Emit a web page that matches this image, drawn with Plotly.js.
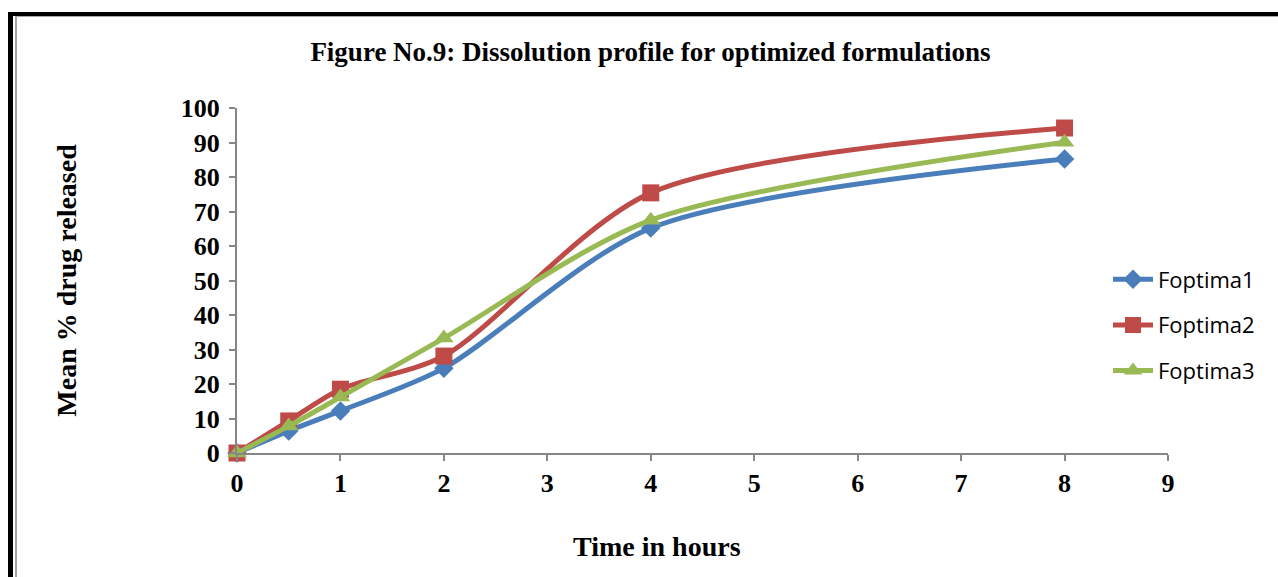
<!DOCTYPE html>
<html>
<head>
<meta charset="utf-8">
<script src="https://cdn.plot.ly/plotly-3.0.1.min.js"></script>
<style>
html,body{margin:0;padding:0;background:#fff;overflow:hidden;}
#frame{position:absolute;left:8px;top:12px;width:1400px;height:700px;border-left:5px solid #000;border-top:4px solid #000;}
#inner{position:absolute;left:2px;top:0px;width:1400px;height:700px;border-left:2px solid #a6a6a6;border-top:1px solid #a6a6a6;}
#chart{position:absolute;left:0;top:0;width:1278px;height:577px;}
</style>
</head>
<body>
<div id="frame"><div id="inner"></div></div>
<div id="chart"></div>
<script>
const timeHours = [0, 0.5, 1, 2, 4, 8];
const foptima1 = [0, 6.4, 12.2, 24.6, 65.2, 85.2];
const foptima2 = [0, 9.3, 18.5, 28.1, 75.4, 94.2];
const foptima3 = [0, 7.8, 16.2, 33.3, 67.5, 90.1];
const seriesNames = ['Foptima1', 'Foptima2', 'Foptima3'];
const xTicks = [0,1,2,3,4,5,6,7,8,9];
const yTicks = [0,10,20,30,40,50,60,70,80,90,100];

const colors = ['#4A7EBB', '#BE4B48', '#98B954'];
const symbols = ['diamond', 'square', 'triangle-up'];
const sizes = [15, 17, 17];
const data = [foptima1, foptima2, foptima3].map((ys, i) => ({
  x: timeHours, y: ys, name: seriesNames[i], type: 'scatter', mode: 'lines+markers',
  legendgroup: 'g' + i,
  line: {color: colors[i], width: 5, shape: 'spline', smoothing: 0.8},
  marker: {color: colors[i], symbol: symbols[i], size: sizes[i]},
  cliponaxis: false
}));

const serif = 'Liberation Serif, Times New Roman, serif';
const tickFont = {family: serif, size: 26, color: '#000', weight: 'bold'};
const layout = {
  width: 1278, height: 577,
  paper_bgcolor: 'rgba(0,0,0,0)', plot_bgcolor: 'rgba(0,0,0,0)',
  margin: {l: 237, r: 110, t: 108, b: 124, autoexpand: false},
  title: {text: '<b>Figure No.9: Dissolution profile for optimized formulations</b>',
    font: {family: serif, size: 27, color: '#000'},
    x: 0.509, xanchor: 'center', xref: 'container', y: 1 - 52/577, yanchor: 'middle', yref: 'container'},
  xaxis: {range: [0, 9], tickvals: xTicks, ticktext: xTicks.map(String), showgrid: false, zeroline: false,
    showline: true, linecolor: '#868686', linewidth: 2, ticks: 'outside', ticklen: 6, tickcolor: '#868686', tickwidth: 2,
    tickfont: tickFont, ticklabelstandoff: 0, automargin: false},
  yaxis: {range: [0, 100], tickvals: yTicks, ticktext: yTicks.map(String), showgrid: false, zeroline: false,
    showline: true, linecolor: '#868686', linewidth: 2, ticks: 'outside', ticklen: 6, tickcolor: '#868686', tickwidth: 2,
    tickfont: tickFont, ticklabelstandoff: 4, automargin: false,
    title: {text: '<b>Mean % drug released</b>', font: {family: serif, size: 28, color: '#000'}, standoff: 96}},
  annotations: [{text: '<b>Time in hours</b>', xref: 'paper', yref: 'paper',
    x: (657 - 237) / 931, y: -(546 - 453) / 345, xanchor: 'center', yanchor: 'middle', showarrow: false,
    font: {family: serif, size: 28, color: '#000'}}],
  legend: {xref: 'container', yref: 'container', x: 1108/1278, xanchor: 'left', y: 1 - 325/577, yanchor: 'middle',
    font: {family: 'Open Sans, sans-serif', size: 22, color: '#000'},
    tracegroupgap: 14, itemwidth: 40, bgcolor: 'rgba(0,0,0,0)'},
  showlegend: true
};
Plotly.newPlot('chart', data, layout, {displayModeBar: false, staticPlot: true});
</script>
</body>
</html>
